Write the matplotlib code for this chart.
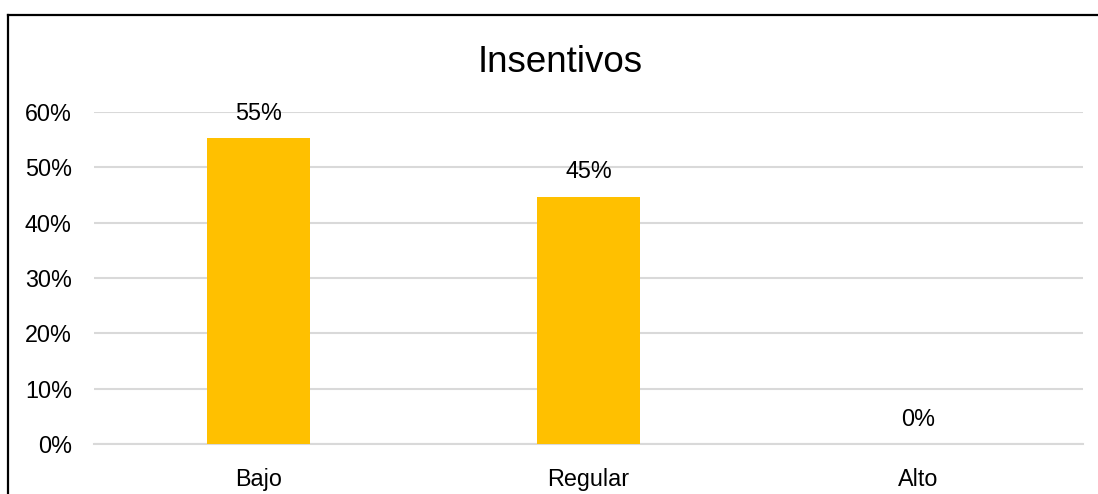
import matplotlib
matplotlib.use("Agg")
import matplotlib.pyplot as plt
from matplotlib.lines import Line2D
from matplotlib.ticker import FuncFormatter

categories = ["Bajo", "Regular", "Alto"]
values = [0.553, 0.447, 0.0]
labels = ["55%", "45%", "0%"]
title = "Insentivos"

plt.rcParams['font.family'] = ['Liberation Sans', 'DejaVu Sans']

W, H = 1098, 494
fig = plt.figure(figsize=(W / 100, H / 100), dpi=100)
fig.patch.set_facecolor("white")

ax = fig.add_axes([94 / W, 1 - 444 / H, (1083 - 94) / W, (444 - 112) / H])
x = list(range(len(categories)))
ax.bar(x, values, width=0.313, color="#FFC000", zorder=3)
ax.set_xlim(-0.5, len(categories) - 0.5)
ax.set_ylim(0, 0.6)
ax.set_yticks([0, 0.1, 0.2, 0.3, 0.4, 0.5, 0.6])
ax.yaxis.set_major_formatter(FuncFormatter(lambda v, p: f"{round(v * 100)}%"))
ax.set_xticks(x)
ax.set_xticklabels(categories)
ax.tick_params(axis="both", length=0, labelsize=16.8, colors="#000000")
ax.tick_params(axis="y", pad=16)
ax.tick_params(axis="x", pad=17)
ax.grid(axis="y", color="#D9D9D9", linewidth=1.5, zorder=0)
for s in ["top", "right", "left"]:
    ax.spines[s].set_visible(False)
ax.spines["bottom"].set_color("#D9D9D9")
ax.spines["bottom"].set_linewidth(1.5)

for xi, v, lab in zip(x, values, labels):
    ax.annotate(lab, (xi, v), xytext=(0, 9.5), textcoords="offset points",
                ha="center", va="bottom", fontsize=16.8, color="#000000")

fig.text(560 / W, 1 - 72 / H, title, ha="center", va="baseline", fontsize=26.5, color="#000000")

# chart border (top and left visible; rest cut off)
fig.add_artist(Line2D([8 / W, 1.0], [1 - 15 / H, 1 - 15 / H], transform=fig.transFigure, color="black", linewidth=1.6))
fig.add_artist(Line2D([8 / W, 8 / W], [1 - 15 / H, 0.0], transform=fig.transFigure, color="black", linewidth=1.6))

fig.savefig("out.png", dpi=100)
